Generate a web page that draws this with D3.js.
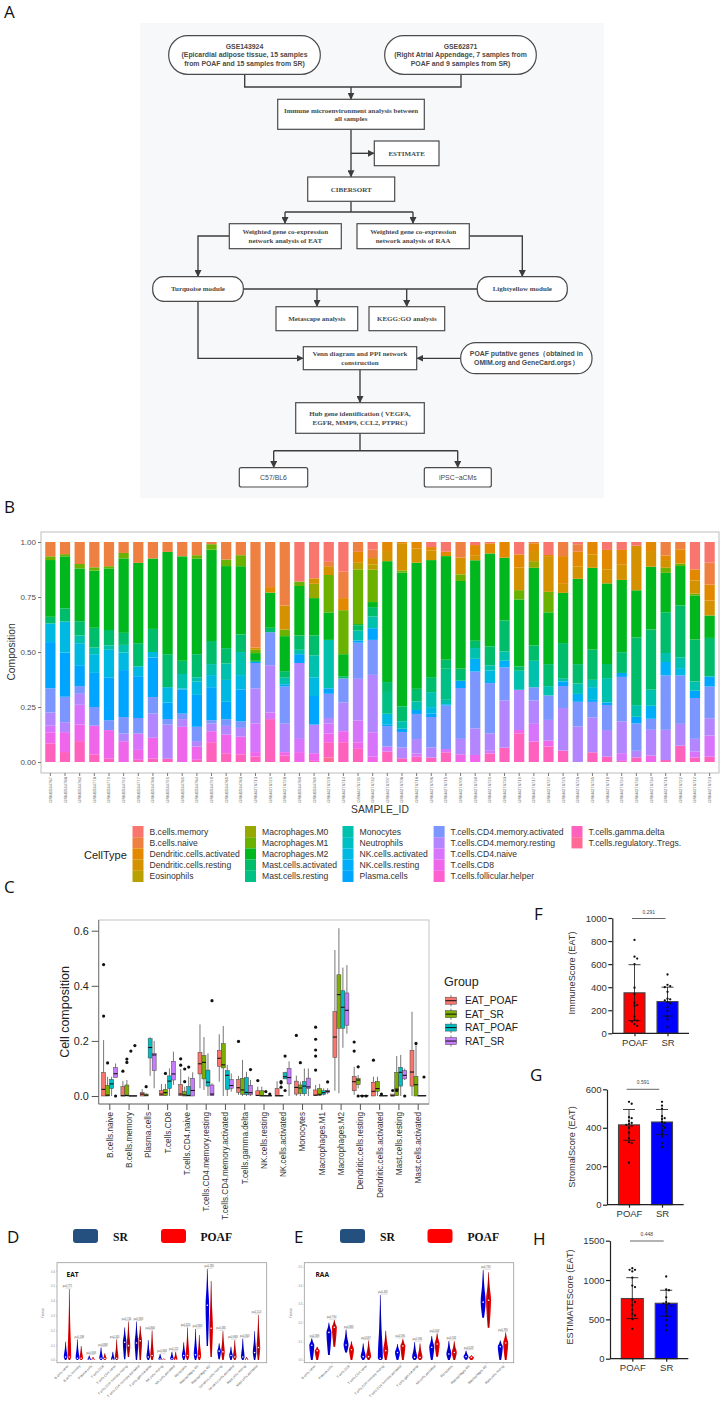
<!DOCTYPE html>
<html>
<head>
<meta charset="utf-8">
<script src="https://cdn.jsdelivr.net/npm/d3@7"></script>
<style>
body { margin: 0; background: #fff; }
text { font-family: "Liberation Sans", sans-serif; }
</style>
</head>
<body>
<script>
'use strict';

// ---------- panel B data ----------
const cellTypes = ['B.cells.memory', 'B.cells.naive', 'Dendritic.cells.activated', 'Dendritic.cells.resting', 'Eosinophils',
  'Macrophages.M0', 'Macrophages.M1', 'Macrophages.M2', 'Mast.cells.activated', 'Mast.cells.resting',
  'Monocytes', 'Neutrophils', 'NK.cells.activated', 'NK.cells.resting', 'Plasma.cells',
  'T.cells.CD4.memory.activated', 'T.cells.CD4.memory.resting', 'T.cells.CD4.naive', 'T.cells.CD8', 'T.cells.follicular.helper',
  'T.cells.gamma.delta', 'T.cells.regulatory..Tregs.'];
const cellColors = ['#F8766D', '#EE8042', '#E38900', '#D49200', '#B8A000', '#97A900', '#6BB100', '#00B81E', '#00BD6B', '#00C085',
  '#00C0AE', '#00BFC4', '#00B9E3', '#00AEFA', '#00A5FF', '#7C96FF', '#B385FF', '#D873FB', '#F066EA', '#FD61D1', '#FF62BC', '#FF6A96'];
const sampleIds = ['GSM1534787', 'GSM1534788', 'GSM1534782', 'GSM1534778', 'GSM1534779', 'GSM1534792', 'GSM1534777', 'GSM1534786',
  'GSM1534791', 'GSM1534781', 'GSM1534784', 'GSM1534790', 'GSM1534785', 'GSM1534783', 'GSM4276713', 'GSM4276721', 'GSM4276728',
  'GSM1534780', 'GSM1534789', 'GSM4276720', 'GSM4276714', 'GSM4276711', 'GSM4276732', 'GSM4276707', 'GSM4276708', 'GSM4276718',
  'GSM4276706', 'GSM4276715', 'GSM4276709', 'GSM4276730', 'GSM4276729', 'GSM4276733', 'GSM4276719', 'GSM4276717', 'GSM4276727',
  'GSM4276725', 'GSM4276726', 'GSM4276735', 'GSM4276710', 'GSM4276724', 'GSM4276731', 'GSM4276734', 'GSM4276716', 'GSM4276722',
  'GSM4276712', 'GSM4276723'];
// percent per sample, same order as cellTypes
const compositionBySample = [
  [0,6.5,0,0,0,0,1.7,25.8,3,0,0,0,8.5,0,21,11,6,3,5,0,8.5,0],
  [0,5.5,0,0,0,0,1,23.5,6,0,0,0,14,0,20,11.5,4.5,0,9,0,4.5,0],
  [0,10,0,0,0,0,2,24,6.5,0,3.5,0,10,0,9.5,3.5,5,9,7.5,0,9.5,0],
  [0,11.5,0,0,0,0,1.5,26,9,0,3,0,8.5,0,15.5,8.5,0,0,13,0,3.5,0],
  [0,11,0,0,0,0,1,28,7,0,2,0,12.5,0,19.5,4.5,0,0,13,0,1.5,0],
  [0,5,0,0,0,0,2.5,34,5.5,0,3.5,0,8,0,21.5,7.5,3.5,0,9.5,0,0,0],
  [0,9.5,0,0,0,0,0,36.5,10.5,0,0,0,4.5,0,19,7,0,7.5,4.5,0,1,0],
  [0,7.5,0,0,0,0,0,32,10.5,0,0,0,2.5,0,18,7.5,11,0,9.5,0,1.5,0],
  [0,4.5,0,0,0,0,0,46.5,15,0,0,0,7,0,7.5,2.5,15.5,0,0,0,1.5,0],
  [0,6.5,0,0,0,0,0,47.5,6,0,6.5,0,.5,0,11,2.5,3.5,0,16,0,0,0],
  [0,6,0,0,0,0,1.5,43.5,10.5,0,2,0,6,0,14.5,6.5,2.5,0,6,0,1,0],
  [0,1,0,0,0,0,2.5,41.5,10.5,0,5,0,5.5,0,15,1.5,3.5,0,5,0,9,0],
  [0,8,0,0,0,0,3,37.5,7,0,7.5,0,10,0,8,3,4,0,8.5,0,4,0],
  [0,6,0,0,0,0,5,31,8,0,10.5,0,6.5,0,14.5,3,4,0,8,0,3.5,0],
  [0,48,0,1,0,0,1.5,3.5,.5,0,0,0,0,0,.5,11.5,16,13,2,0,2.5,0],
  [0,20.5,2.5,0,0,0,0,16,2,0,0,0,0,0,0,15,21.5,3,0,0,19.5,0],
  [0,29,0,11,0,0,3,16,3,0,3,0,0,0,1,17,13,0,1.5,0,3,0],
  [18,0,0,0,0,0,2,22.5,6.5,0,2,0,0,0,4,0,34.5,6,4.5,0,0,0],
  [16.5,0,0,2.5,0,6.5,0,17,9,0,10,0,8.5,0,13,0,13,0,3.5,0,.5,0],
  [9,2,0,4,0,0,17,12.5,0,0,22,0,0,0,2.5,11,2.5,4.5,4,0,7,2],
  [13.5,12,5.5,0,0,0,20,10,1,0,0,0,0,0,0,11,13,0,5,0,9,0],
  [0,4.5,5,0,3,0,25,.5,2.5,0,4.5,0,0,0,1,16.5,19,10,3,0,6,0],
  [3.5,3.8,0,3,2.3,0,14.7,2.3,4.2,0,5.4,0,0,0,5.3,15.9,26.1,11.1,2.4,0,0,0],
  [0,0,4.1,4.6,0,0,0,54.9,4.5,9.9,0,0,5,0,.6,9.3,0,2.3,0,0,4.7,0],
  [0,0,.8,12.1,0,0,1,60.7,6.8,0,3.4,0,0,0,1.5,7,4.9,0,0,0,1.7,0],
  [0,0,2.9,6.5,0,0,0,57.2,5.8,0,3.8,0,0,0,1.8,11.4,6.5,1.5,0,0,2.4,0],
  [2.3,0,1.5,4.4,0,0,0,53.1,6.8,0,6.8,0,3,0,1.5,13.8,4.6,0,0,0,2,0],
  [4.4,0,2,0,0,0,0,47,4.1,14.1,2,0,0,0,.6,19.7,0,1.5,0,0,4.4,0],
  [0,7.1,0,7.6,0,0,3,39.8,5.5,0,0,0,0,0,3.3,23.1,7,0,3.5,0,0,0],
  [1.4,0,4.6,2.3,0,0,0,36.6,3.3,0,4.9,0,0,5.8,0,25.8,12.1,0,3.2,0,0,0],
  [.6,0,4.6,0,0,0,0,42.2,8.6,0,2.4,0,5.2,0,.5,22.8,7.9,1.2,0,0,3.9,0],
  [0,0,7.1,0,0,0,0,28.5,14,0,4.2,0,0,3,0,15,21.4,0,0,0,6.5,0],
  [5.6,0,6,10.2,0,0,4.2,30.3,2,0,8.6,0,0,0,0,0,18.2,0,1.5,0,13,0],
  [0,.6,3.5,4.6,0,3,0,35.2,7,0,12,0,0,0,0,6,10.6,8,0,0,9.3,0],
  [5.9,0,.5,16.2,0,0,9.3,23.5,10,0,4.2,0,0,0,0,11.1,9.4,0,2.7,0,7,0],
  [0,6.4,12.6,4.1,0,0,0,22.8,16.2,0,1.2,0,0,0,2.1,10,19.3,0,0,0,5.2,0],
  [1,3.4,6.8,5.5,0,0,0,38.7,8.8,0,4.7,0,0,3.6,0,11.2,16.1,0,0,0,0,0],
  [0,0,5.6,6.1,0,0,0,37.2,13.7,0,3.3,0,5.8,0,.9,7.1,15.8,0,0,0,4.4,0],
  [3.6,0,8.8,6.4,0,0,0,36.6,6.4,0,11.1,0,0,0,1.1,11.4,12.1,0,0,0,2.4,0],
  [3.6,0,6.5,7.1,0,0,0,32.8,9.4,0,0,0,0,0,1.8,20.2,14.4,3.5,0,0,.5,0],
  [1.7,0,0,20.2,0,0,0,21.4,30.7,0,5.3,0,0,0,3,12.4,3,0,0,0,2.1,0],
  [0,0,4.1,7.1,0,0,0,28.5,27.3,0,7.3,0,0,5.9,0,5,11.7,0,2.9,0,0,0],
  [0,6.1,2.1,3.5,0,0,2.3,17.9,18.5,0,4.1,0,0,6.1,0,24.7,13.7,0,0,0,.9,0],
  [0,3.3,6.5,0,0,0,1.1,17.9,23.5,0,4.9,0,3.3,0,0,22,9.9,0,0,0,7.4,0],
  [12.4,0,5,6,0,0,.8,20,19,0,4.2,0,0,0,3.3,18.5,5.8,2.6,0,0,2.1,0],
  [9.4,9.9,7.3,6.8,0,0,0,10.2,17.5,0,0,0,0,0,4.6,14.4,7.9,9.6,0,0,2.4,0]
];

// ---------- panel C data: [whisker low, q1, median, q3, whisker high, outliers] ----------
const boxCategories = ['B.cells.naive', 'B.cells.memory', 'Plasma.cells', 'T.cells.CD8', 'T.cells.CD4.naive',
  'T.cells.CD4.memory.resting', 'T.cells.CD4.memory.activated', 'T.cells.gamma.delta', 'NK.cells.resting', 'NK.cells.activated',
  'Monocytes', 'Macrophages.M1', 'Macrophages.M2', 'Dendritic.cells.resting', 'Dendritic.cells.activated',
  'Mast.cells.resting', 'Mast.cells.activated'];
const boxGroups = ['EAT_POAF', 'EAT_SR', 'RAT_POAF', 'RAT_SR'];
const boxColors = ['#F8766D', '#7CAE00', '#00BFC4', '#C77CFF'];
const eatPoafBoxes = [
  [0,0,.024,.085,.203,[.477,.29]], [0,0,.001,.034,.054,[.09]], [0,0,.007,.012,.025,[]], [0,.001,.007,.02,.044,[]],
  [0,.001,.007,.042,.098,[.135,.112]], [.028,.08,.117,.158,.26,[]], [.052,.108,.137,.165,.224,[]], [.004,.013,.03,.06,.073,[.198]],
  [0,.001,.002,.019,.034,[.056]], [0,0,.001,.027,.054,[]], [0,.007,.031,.054,.074,[.22]], [0,.002,.003,.022,.04,[.25,.206,.167,.145,.094]],
  [.019,.14,.214,.306,.53,[]], [.004,.019,.052,.071,.106,[.196,.163]], [0,0,.017,.05,.07,[.13]], [0,0,.001,.007,.007,[.02]], [0,.036,.087,.166,.306,[]]
];
const eatSrBoxes = [
  [0,0,.003,.039,.07,[.12]], [0,0,.002,.04,.058,[.134,.122]], [0,0,.003,.007,.01,[.034]], [0,.001,.012,.024,.044,[.082]],
  [0,0,.004,.017,.034,[.098,.052]], [.022,.062,.122,.147,.214,[]], [0,.102,.113,.19,.254,[]], [0,.006,.022,.064,.131,[]],
  [0,0,.001,.019,.034,[]], [0,0,.001,.001,.001,[.052,.048,.032]], [0,.01,.029,.04,.052,[.121]], [0,.002,.006,.027,.044,[]],
  [.01,.246,.368,.44,.609,[]], [.028,.041,.058,.064,.076,[.106,0]], [0,.017,.027,.053,.07,[]], [.001,.001,.025,.086,.145,[.02]], [0,0,.041,.071,.189,[.191]]
];
const ratPoafBoxes = [
  [0,.027,.044,.06,.07,[]], [0,0,0,.001,.001,[.163]], [.073,.138,.176,.208,.213,[]], [0,.027,.054,.073,.1,[]],
  [0,0,.002,.035,.07,[.105]], [0,.036,.05,.094,.155,[]], [0,.024,.075,.092,.113,[]], [0,.005,.013,.067,.088,[]],
  [0,0,.001,.001,.002,[.016]], [.062,.062,.07,.085,.088,[.145,.02]], [0,.008,.036,.053,.1,[]], [.002,.006,.012,.019,.028,[]],
  [.175,.246,.322,.382,.466,[]], [0,0,.001,.001,.001,[0]], [0,0,.001,.001,.001,[.007]], [0,.036,.086,.104,.149,[]], [0,0,.001,.001,.001,[]]
];
const ratSrBoxes = [
  [.07,.067,.081,.103,.118,[0]], [0,0,0,.001,.001,[.183]], [.028,.092,.149,.155,.2,[]], [.04,.058,.08,.126,.161,[]],
  [0,0,.02,.064,.086,[]], [0,.001,.007,.04,.046,[.346]], [.016,.028,.038,.06,.082,[]], [0,.004,.012,.039,.058,[.096]],
  [0,0,.001,.001,.002,[.007]], [0,.044,.067,.1,.126,[]], [0,.027,.033,.065,.1,[]], [.007,.012,.017,.02,.028,[.051]],
  [.226,.257,.311,.374,.475,[]], [0,0,.001,.001,.001,[0]], [0,0,.001,.001,.001,[]], [.058,.062,.075,.093,.1,[0]], [0,0,.001,.001,.001,[.069]]
];

// ---------- panels D, E data: [low, median, high] ----------
const eatLabels = ['B cells naive', 'B cells memory', 'Plasma cells', 'T cells CD8', 'T cells CD4 naive', 'T cells CD4 memory resting',
  'T cells CD4 memory activated', 'T cells gamma delta', 'NK cells resting', 'NK cells activated', 'Monocytes', 'Macrophages M1',
  'Macrophages M2', 'Dendritic cells resting', 'Dendritic cells activated', 'Mast cells resting', 'Mast cells activated'];
const eatSr = [[0,.02,.124],[0,.012,.14],[0,.005,.03],[0,.012,.085],[0,.005,.055],[.005,.12,.22],[0,.115,.26],[0,.02,.135],[0,.006,.04],
  [0,.008,.055],[0,.03,.12],[0,.035,.21],[.095,.37,.615],[.005,.06,.113],[0,.03,.09],[0,.02,.145],[0,.05,.195]];
const eatPoaf = [[0,.02,.48],[0,.012,.095],[0,.004,.02],[0,.01,.045],[0,.012,.14],[.02,.097,.26],[0,.13,.23],[0,.03,.2],[0,.002,.01],
  [0,.005,.055],[0,.03,.22],[0,.027,.17],[.02,.215,.535],[0,.055,.195],[0,.02,.135],[0,.004,.02],[0,.085,.305]];
const eatP = ['p=0.771', 'p=0.198', 'p=0.698', 'p=0.888', 'p=0.165', 'p=0.744', 'p=0.983', 'p=0.866', 'p=0.638', 'p=0.221', 'p=0.824',
  'p=0.983', 'p=0.285', 'p=0.485', 'p=0.868', 'p=0.363', 'p=0.114'];

const raaLabels = ['B cells naive', 'Plasma cells', 'T cells CD8', 'T cells CD4 naive', 'T cells CD4 memory resting',
  'T cells CD4 memory activated', 'T cells gamma delta', 'NK cells activated', 'Monocytes', 'Macrophages M1', 'Macrophages M2', 'Mast cells resting'];
const raaSr = [[0,.079,.116],[.027,.148,.2],[.04,.08,.164],[0,.018,.089],[0,.009,.348],[0,.04,.086],[0,.014,.096],[0,.068,.129],[0,.032,.102],
  [.002,.018,.05],[.227,.31,.482],[0,.071,.105]];
const raaPoaf = [[0,.05,.071],[.071,.175,.214],[0,.055,.1],[0,.018,.105],[0,.05,.157],[0,.075,.113],[0,.014,.089],[.018,.086,.143],[0,.04,.1],
  [0,.014,.025],[.173,.32,.47],[0,.091,.148]];
const raaP = ['p=0.599', 'p=0.794', 'p=0.893', 'p=0.597', 'p=0.492', 'p=0.596', 'p=0.596', 'p=0.568', 'p=0.592', 'p=0.028', 'p=0.795', 'p=0.799'];

// ---------- panels F, G, H data ----------
const immunePoaf = [810,665,648,600,395,340,265,245,240,145,115,110,100,80,65];
const immuneSr = [510,420,410,400,360,300,295,285,270,260,225,195,145,120,55];
const stromalPoaf = [535,525,455,450,435,425,420,415,410,400,375,345,325,320,218];
const stromalSr = [535,515,500,460,450,445,430,425,410,400,385,370,355,320,300];
const estimatePoaf = [1150,1130,1130,1110,1030,930,910,750,720,680,620,570,550,500,380];
const estimateSr = [1045,880,870,780,720,700,700,680,670,640,600,540,490,420,360];
// mean, error low, error high for POAF then SR
const immuneBars = [[351,110,595],[275,150,400]];
const stromalBars = [[415,335,495],[430,364,495]];
const estimateBars = [[765,510,1030],[705,540,870]];

// ---------- flowchart ----------
const flowNodes = [
  { x: 168.7, y: 35.7, w: 151.6, h: 38.6, r: 19, sans: true, lines: ['GSE143924', '(Epicardial adipose tissue, 15 samples', 'from POAF and 15 samples from SR)'] },
  { x: 384.7, y: 35.7, w: 151.6, h: 38.6, r: 19, sans: true, lines: ['GSE62871', '(Right Atrial Appendage, 7 samples from', 'POAF and 9 samples from SR)'] },
  { x: 277.7, y: 99.3, w: 146.6, h: 30, lines: ['Immune microenvironment analysis between', 'all samples'] },
  { x: 374.3, y: 141, w: 64.7, h: 24.7, lines: ['ESTIMATE'] },
  { x: 307.7, y: 177, w: 87, h: 24.3, lines: ['CIBERSORT'] },
  { x: 229.3, y: 223.7, w: 112, h: 25, lines: ['Weighted gene co-expression', 'network analysis of EAT'] },
  { x: 357, y: 223.7, w: 112.3, h: 25, lines: ['Weighted gene co-expression', 'network analysis of RAA'] },
  { x: 152.7, y: 276.7, w: 90.6, h: 24.6, r: 11, lines: ['Turquoise module'] },
  { x: 477.3, y: 276.7, w: 90, h: 24.6, r: 11, lines: ['Lightyellow module'] },
  { x: 276, y: 306.7, w: 81.7, h: 24, lines: ['Metascape analysis'] },
  { x: 369, y: 306.7, w: 75.7, h: 24, lines: ['KEGG:GO analysis'] },
  { x: 303.3, y: 346.7, w: 113.4, h: 23, lines: ['Venn diagram and PPI network', 'construction'] },
  { x: 460.7, y: 342.7, w: 131.3, h: 31, r: 15, sans: true, lines: ['POAF putative genes\uFF08obtained in', 'OMIM.org and GeneCard.orgs\uFF09'] },
  { x: 295.7, y: 402.7, w: 128.6, h: 30.6, lines: ['Hub gene identification ( VEGFA,', 'EGFR, MMP9, CCL2, PTPRC)'] },
  { x: 239.3, y: 467.7, w: 68.4, h: 19.3, r: 2, sans: true, plain: true, lines: ['C57/BL6'] },
  { x: 424.3, y: 467.7, w: 67, h: 19.3, r: 2, sans: true, plain: true, lines: ['iPSC\u2212aCMs'] }
];
// polylines without and with arrowhead
const flowLines = [
  [[244.7,74.3],[244.7,87],[461,87],[461,74.3]],
  [[351,201.3],[351,212]], [[285,212],[413,212]],
  [[243.3,289],[477.3,289]],
  [[360,433.3],[360,450.7]], [[273.7,450.7],[457.7,450.7]]
];
const flowArrows = [
  [[351,87],[351,99.3]], [[351,129.3],[351,177]], [[351,153.3],[374.3,153.3]],
  [[285,212],[285,223.7]], [[413,212],[413,223.7]],
  [[229.3,236],[198,236],[198,276.7]], [[469.3,236],[522.3,236],[522.3,276.7]],
  [[317,289],[317,306.7]], [[406.7,289],[406.7,306.7]],
  [[198,301.3],[198,358.3],[303.3,358.3]], [[460.7,358.3],[416.7,358.3]],
  [[360,369.7],[360,402.7]], [[273.7,450.7],[273.7,467.7]], [[457.7,450.7],[457.7,467.7]]
];

let w = 727, h = 1403;

let svg = d3.select('body')
  .append('svg')
  .attr('width', w)
  .attr('height', h)
  .style('display', 'block');

svg.append('defs').append('marker')
  .attr('id', 'arrow')
  .attr('viewBox', '0 0 10 10')
  .attr('refX', 9.5).attr('refY', 5)
  .attr('markerUnits', 'userSpaceOnUse')
  .attr('markerWidth', 7).attr('markerHeight', 7)
  .attr('orient', 'auto')
  .append('path').attr('d', 'M0,0L10,5L0,10Z').attr('fill', '#3c3c3c');

// panel letters
[['A', 4, 18], ['B', 4, 513], ['C', 4, 893], ['D', 7, 1243], ['E', 294, 1243], ['F', 534, 920], ['G', 530, 1081], ['H', 533, 1245]]
  .forEach(d => {
    svg.append('text').text(d[0]).attr('x', d[1]).attr('y', d[2])
      .style('font-family', '"Open Sans", sans-serif').style('font-size', '17px').attr('fill', '#111');
  });

// ---------- A ----------
let flow = svg.append('g');
flow.append('rect').attr('x', 140).attr('y', 23).attr('width', 464).attr('height', 475).attr('fill', '#F7F8FA');

let flowPath = d3.line();
flow.selectAll('path.link').data(flowLines).enter().append('path')
  .attr('class', 'link').attr('d', flowPath).attr('fill', 'none').attr('stroke', '#3c3c3c').attr('stroke-width', 1.35);
flow.selectAll('path.arrow').data(flowArrows).enter().append('path')
  .attr('class', 'arrow').attr('d', flowPath).attr('fill', 'none').attr('stroke', '#3c3c3c').attr('stroke-width', 1.35)
  .attr('marker-end', 'url(#arrow)');

flowNodes.forEach(n => {
  flow.append('rect').attr('x', n.x).attr('y', n.y).attr('width', n.w).attr('height', n.h)
    .attr('rx', n.r || 0).attr('fill', '#fff').attr('stroke', '#4a4a4a').attr('stroke-width', 1.2);
  let lh = n.lines.length === 3 ? 8.7 : 8.4;
  n.lines.forEach((l, i) => {
    flow.append('text').text(l)
      .attr('x', n.x + n.w / 2)
      .attr('y', n.y + n.h / 2 + (i - (n.lines.length - 1) / 2) * lh)
      .attr('dy', '0.35em')
      .attr('text-anchor', 'middle')
      .attr('fill', '#4a4a4a')
      .style('font-family', n.sans ? '"Liberation Sans"' : '"Liberation Serif"')
      .style('font-weight', n.plain ? 'normal' : 'bold')
      .style('font-size', n.sans ? '6.9px' : '7px');
  });
});

// ---------- B ----------
let bx = d3.scaleBand().domain(sampleIds).range([41, 719]).paddingInner(0.3).paddingOuter(0.29);
let by = d3.scaleLinear().domain([0, 1]).range([762, 542]);

svg.append('rect').attr('x', 41).attr('y', 532).attr('width', 678).attr('height', 241)
  .attr('fill', '#fff').attr('stroke', '#bdbdbd').attr('stroke-width', 1);

// position fill, first level on top
let sampleRows = compositionBySample.map((row, i) => {
  let total = d3.sum(row);
  let o = { id: sampleIds[i] };
  cellTypes.forEach((c, j) => { o[c] = row[j] / total; });
  return o;
});
let stack = d3.stack().keys(cellTypes.slice().reverse())(sampleRows);
svg.append('g').selectAll('g').data(stack).enter().append('g')
  .attr('fill', d => cellColors[cellTypes.indexOf(d.key)])
  .selectAll('rect').data(d => d).enter().append('rect')
  .attr('x', d => bx(d.data.id))
  .attr('width', bx.bandwidth())
  .attr('y', d => by(d[1]))
  .attr('height', d => by(d[0]) - by(d[1]));

let bLeft = svg.append('g').attr('transform', 'translate(41,0)')
  .call(d3.axisLeft(by).tickValues([0, .25, .5, .75, 1]).tickFormat(d3.format('.2f')).tickSize(3).tickPadding(2));
bLeft.select('.domain').remove();
bLeft.selectAll('text').style('font-size', '8px').style('font-family', '"Liberation Sans"').attr('fill', '#4d4d4d');
bLeft.selectAll('line').attr('stroke', '#777');

let bBottom = svg.append('g').attr('transform', 'translate(0,773)')
  .call(d3.axisBottom(bx).tickSize(3));
bBottom.select('.domain').remove();
bBottom.selectAll('line').attr('stroke', '#777');
bBottom.selectAll('text')
  .attr('transform', 'rotate(-90)')
  .attr('text-anchor', 'end')
  .attr('x', -4).attr('y', 0).attr('dy', '0.35em')
  .style('font-size', '4.2px').style('font-family', '"Liberation Sans"').attr('fill', '#666');

svg.append('text').text('Composition').attr('transform', 'translate(11,652) rotate(-90)')
  .attr('text-anchor', 'middle').attr('dy', '0.35em').style('font-size', '10.3px').attr('fill', '#333');
svg.append('text').text('SAMPLE_ID').attr('x', 380).attr('y', 809).attr('dy', '0.35em')
  .attr('text-anchor', 'middle').style('font-size', '10.3px').attr('fill', '#333');

// legend of B
svg.append('text').text('CellType').attr('x', 84).attr('y', 855).attr('dy', '0.35em').style('font-size', '11px').attr('fill', '#222');
let legendX = [132.5, 245, 342.5, 433.6, 571.5];
cellTypes.forEach((c, i) => {
  let col = Math.floor(i / 5), row = i % 5;
  svg.append('rect').attr('x', legendX[col]).attr('y', 826 + row * 11.2).attr('width', 11).attr('height', 11.2).attr('fill', cellColors[i]);
  svg.append('text').text(c).attr('x', legendX[col] + 17).attr('y', 831.6 + row * 11.2).attr('dy', '0.35em')
    .style('font-size', '8.6px').attr('fill', '#333');
});

// ---------- C ----------
let cx = d3.scalePoint().domain(boxCategories).range([109.3, 417.7]);
let cy = d3.scaleLinear().domain([0, .6]).range([1096, 930.7]);
let cDodge = d3.scalePoint().domain(boxGroups).range([-5.7, 6.3]);

svg.append('rect').attr('x', 98.7).attr('y', 920).attr('width', 330.3).attr('height', 184)
  .attr('fill', '#fff').attr('stroke', '#c4c4c4').attr('stroke-width', 1);
svg.append('path').attr('d', 'M98.7,920V1104H429').attr('fill', 'none').attr('stroke', '#777').attr('stroke-width', 1);

[eatPoafBoxes, eatSrBoxes, ratPoafBoxes, ratSrBoxes].forEach((boxes, g) => {
  let group = svg.append('g');
  boxes.forEach((b, i) => {
    let x = cx(boxCategories[i]) + cDodge(boxGroups[g]);
    group.append('line').attr('x1', x).attr('x2', x).attr('y1', cy(b[0])).attr('y2', cy(b[4]))
      .attr('stroke', '#777').attr('stroke-width', 1);
    group.append('rect').attr('x', x - 2).attr('width', 4)
      .attr('y', cy(b[3])).attr('height', Math.max(cy(b[1]) - cy(b[3]), 0.3))
      .attr('fill', boxColors[g]).attr('stroke', '#444').attr('stroke-width', 0.5);
    group.append('line').attr('x1', x - 2).attr('x2', x + 2).attr('y1', cy(b[2])).attr('y2', cy(b[2]))
      .attr('stroke', '#111').attr('stroke-width', 1.1);
    group.selectAll(null).data(b[5]).enter().append('circle')
      .attr('cx', x).attr('cy', d => cy(d)).attr('r', 1.6).attr('fill', '#111');
  });
});

let cLeft = svg.append('g').attr('transform', 'translate(98.7,0)')
  .call(d3.axisLeft(cy).tickValues([0, .2, .4, .6]).tickFormat(d3.format('.1f')).tickSize(7).tickPadding(3));
cLeft.select('.domain').remove();
cLeft.selectAll('text').style('font-size', '10.8px').style('font-family', '"Liberation Sans"').attr('fill', '#222');
cLeft.selectAll('line').attr('stroke', '#555');
let cBottom = svg.append('g').attr('transform', 'translate(0,1104)')
  .call(d3.axisBottom(cx).tickSize(6));
cBottom.select('.domain').remove();
cBottom.selectAll('line').attr('stroke', '#555');
cBottom.selectAll('text')
  .attr('transform', 'rotate(-90)')
  .attr('text-anchor', 'end')
  .attr('x', -8).attr('y', 0).attr('dy', '0.35em')
  .style('font-size', '8.2px').style('font-family', '"Liberation Sans"').attr('fill', '#333');

svg.append('text').text('Cell composition').attr('transform', 'translate(65,1012) rotate(-90)')
  .attr('text-anchor', 'middle').attr('dy', '0.35em').style('font-size', '12.5px').attr('fill', '#222');
svg.append('text').text('Group').attr('x', 444).attr('y', 982).attr('dy', '0.35em').style('font-size', '12.5px').attr('fill', '#222');
boxGroups.forEach((g, i) => {
  let yy = 1000.7 + i * 13.45;
  svg.append('line').attr('x1', 451).attr('x2', 451).attr('y1', yy - 5.5).attr('y2', yy + 5.5).attr('stroke', '#777');
  svg.append('rect').attr('x', 445.5).attr('y', yy - 3.5).attr('width', 11).attr('height', 7)
    .attr('fill', boxColors[i]).attr('stroke', '#444').attr('stroke-width', 0.5);
  svg.append('line').attr('x1', 445.5).attr('x2', 456.5).attr('y1', yy).attr('y2', yy).attr('stroke', '#111').attr('stroke-width', 1);
  svg.append('text').text(g).attr('x', 465).attr('y', yy).attr('dy', '0.35em').style('font-size', '10.2px').attr('fill', '#222');
});

// ---------- D, E ----------
function violinPanel(o) {
  let x = d3.scalePoint().domain(o.labels).range(o.xRange);
  let y = d3.scaleLinear().domain([0, o.yMax]).range([1360, o.yTop]);

  svg.append('rect').attr('x', o.box[0]).attr('y', 1262.7).attr('width', o.box[1] - o.box[0]).attr('height', 100)
    .attr('fill', '#fff').attr('stroke', '#9a9a9a').attr('stroke-width', 0.8);

  let area = d3.area()
    .x0(d => d.c - d.w).x1(d => d.c + d.w).y(d => d.y)
    .curve(d3.curveMonotoneY);

  [[o.sr, '#0000E6', '#00006e', -o.gap], [o.poaf, '#E60000', '#6e0000', o.gap]].forEach(s => {
    s[0].forEach((v, i) => {
      let c = x(o.labels[i]) + s[3];
      let mid = (v[1] + v[2]) / 2;
      let prof = [[v[2], 0.03], [mid, 0.45], [v[1], 1], [(v[0] + v[1]) / 2, 0.75], [v[0], 0.35]];
      svg.append('path')
        .attr('d', area(prof.map(p => ({ c: c, w: p[1] * o.halfWidth, y: y(p[0]) }))))
        .attr('fill', s[1]);
      svg.append('line').attr('x1', c).attr('x2', c).attr('y1', y(v[0])).attr('y2', y(v[2]))
        .attr('stroke', s[2]).attr('stroke-width', 0.5);
      svg.append('circle').attr('cx', c).attr('cy', y(v[1])).attr('r', 0.8).attr('fill', '#fff');
    });
  });

  o.labels.forEach((l, i) => {
    let top = y(Math.max(o.sr[i][2], o.poaf[i][2])) - 1;
    svg.append('path').attr('d', 'M' + (x(l) - o.gap) + ',' + top + 'H' + (x(l) + o.gap + 2))
      .attr('stroke', '#777').attr('stroke-width', 0.3);
    svg.append('text').text(o.p[i]).attr('x', x(l)).attr('y', top - 0.8).attr('text-anchor', 'middle')
      .style('font-size', '2.6px').attr('fill', '#555');
  });

  let left = svg.append('g').attr('transform', 'translate(' + o.box[0] + ',0)')
    .call(d3.axisLeft(y).ticks(o.yMax * 10).tickFormat(d3.format('.1f')).tickSize(1).tickPadding(1));
  left.select('.domain').remove();
  left.selectAll('line').attr('stroke', '#999').attr('stroke-width', 0.4);
  left.selectAll('text').style('font-size', '2.8px').style('font-family', '"Liberation Sans"').attr('fill', '#888');

  let bottom = svg.append('g').attr('transform', 'translate(0,1362.7)')
    .call(d3.axisBottom(x).tickSize(1.2));
  bottom.select('.domain').remove();
  bottom.selectAll('line').attr('stroke', '#999').attr('stroke-width', 0.4);
  bottom.selectAll('text')
    .attr('transform', 'rotate(-45)')
    .attr('text-anchor', 'end')
    .attr('x', -2).attr('y', 2).attr('dy', '0.35em')
    .style('font-size', '3.3px').style('font-family', '"Liberation Sans"').attr('fill', '#555');

  svg.append('text').text('Fraction').attr('transform', 'translate(' + o.yTitleX + ',1313) rotate(-90)')
    .attr('text-anchor', 'middle').style('font-size', '2.8px').attr('fill', '#777');
  svg.append('text').text(o.title).attr('x', o.titleX).attr('y', 1276.5)
    .style('font-family', '"Open Sans"').style('font-weight', 'bold').style('font-size', '6.6px').attr('fill', '#111');

  // legend
  [['SR', '#24507F', o.legend[0], o.legend[1]], ['POAF', '#FF0000', o.legend[2], o.legend[3]]].forEach(k => {
    svg.append('rect').attr('x', k[2]).attr('y', 1229).attr('width', 25).attr('height', 14).attr('rx', 3).attr('fill', k[1]);
    svg.append('text').text(k[0]).attr('x', k[3]).attr('y', 1241)
      .style('font-family', '"Liberation Serif"').style('font-weight', 'bold').style('font-size', '11.6px').attr('fill', '#111');
  });
}

violinPanel({
  labels: eatLabels, sr: eatSr, poaf: eatPoaf, p: eatP, title: 'EAT', titleX: 66.5,
  box: [57, 266.7], xRange: [67.5, 256.5], yMax: .6, yTop: 1271.3, gap: 1.9, halfWidth: 1.8,
  yTitleX: 44, legend: [73, 113, 161, 200.5]
});
violinPanel({
  labels: raaLabels, sr: raaSr, poaf: raaPoaf, p: raaP, title: 'RAA', titleX: 315.5,
  box: [304.3, 513.7], xRange: [314.5, 503], yMax: .5, yTop: 1266.7, gap: 2.7, halfWidth: 2.5,
  yTitleX: 292, legend: [340, 380, 427.5, 467.5]
});

// ---------- F, G, H ----------
function scorePanel(o) {
  let y = d3.scaleLinear().domain([0, o.max]).range([o.y0, o.yTop]);
  let x = d3.scalePoint().domain(['POAF', 'SR']).range(o.centers);
  let fills = ['#FF0000', '#0000FF'];
  let g = svg.append('g');

  o.bars.forEach((b, i) => {
    let c = x(x.domain()[i]);
    g.append('rect').attr('x', c - o.barW / 2).attr('width', o.barW)
      .attr('y', y(b[0])).attr('height', y(0) - y(b[0]))
      .attr('fill', fills[i]).attr('stroke', '#444').attr('stroke-width', 1.1);
    g.append('line').attr('x1', c).attr('x2', c).attr('y1', y(b[1])).attr('y2', y(b[2])).attr('stroke', '#111').attr('stroke-width', 0.8);
    [b[1], b[2]].forEach(v => {
      g.append('line').attr('x1', c - 6).attr('x2', c + 6).attr('y1', y(v)).attr('y2', y(v)).attr('stroke', '#111').attr('stroke-width', 0.8);
    });
    // spread points that would overlap
    let placed = [];
    let pts = o.points[i].map(v => {
      let py = y(v), off = 0;
      for (let k = 0; k < 9; k++) {
        off = (k % 2 ? 1 : -1) * Math.ceil(k / 2) * 2.7;
        if (!placed.some(p => Math.hypot(p[0] - off, p[1] - py) < 2.6)) break;
      }
      placed.push([off, py]);
      return [c + off, py];
    });
    g.selectAll(null).data(pts).enter().append('circle')
      .attr('cx', d => d[0]).attr('cy', d => d[1]).attr('r', 1.15).attr('fill', '#111');
  });

  let left = svg.append('g').attr('transform', 'translate(' + o.axisX + ',0)')
    .call(d3.axisLeft(y).tickValues(o.ticks).tickFormat(d3.format('d')).tickSize(4).tickPadding(1.5).tickSizeOuter(0));
  left.select('.domain').attr('stroke', '#222').attr('stroke-width', 1.2);
  left.selectAll('line').attr('stroke', '#222').attr('stroke-width', 1.2);
  left.selectAll('text').style('font-size', '9.5px').style('font-family', '"Liberation Sans"').attr('fill', '#333');

  let bottom = svg.append('g').attr('transform', 'translate(0,' + o.y0 + ')')
    .call(d3.axisBottom(x).tickSize(3).tickPadding(3).tickSizeOuter(0));
  bottom.select('.domain').attr('d', 'M' + o.axisX + ',0H' + o.xEnd).attr('stroke', '#222').attr('stroke-width', 1.2);
  bottom.selectAll('line').attr('stroke', '#222').attr('stroke-width', 1.2);
  bottom.selectAll('text').style('font-size', '9.5px').style('font-family', '"Liberation Sans"').attr('fill', '#333');

  svg.append('text').text(o.title).attr('transform', 'translate(' + o.titleX + ',' + o.titleY + ') rotate(-90)')
    .attr('text-anchor', 'middle').attr('dy', '0.35em').style('font-size', '9.2px').attr('fill', '#333');
  svg.append('line').attr('x1', o.pLine[0]).attr('x2', o.pLine[1]).attr('y1', o.pLine[2]).attr('y2', o.pLine[2])
    .attr('stroke', '#555').attr('stroke-width', 0.9);
  svg.append('text').text(o.pText).attr('x', (o.pLine[0] + o.pLine[1]) / 2).attr('y', o.pLine[2] - 5)
    .attr('text-anchor', 'middle').style('font-size', '5px').attr('fill', '#444');
}

scorePanel({
  max: 1000, ticks: [0, 200, 400, 600, 800, 1000], y0: 1033.3, yTop: 918, centers: [634.5, 667.5], barW: 21,
  axisX: 612.3, xEnd: 689, bars: immuneBars, points: [immunePoaf, immuneSr],
  title: 'ImmuneScore (EAT)', titleX: 572, titleY: 973, pLine: [632, 665.5, 918.5], pText: '0.291'
});
scorePanel({
  max: 600, ticks: [0, 200, 400, 600], y0: 1204.7, yTop: 1089.3, centers: [629, 662], barW: 21,
  axisX: 607, xEnd: 683.7, bars: stromalBars, points: [stromalPoaf, stromalSr],
  title: 'StromalScore (EAT)', titleX: 572, titleY: 1147, pLine: [626.7, 659.3, 1089.3], pText: '0.591'
});
scorePanel({
  max: 1500, ticks: [0, 500, 1000, 1500], y0: 1358.7, yTop: 1240.7, centers: [632.3, 666.2], barW: 22,
  axisX: 610, xEnd: 688.3, bars: estimateBars, points: [estimatePoaf, estimateSr],
  title: 'ESTIMATEScore (EAT)', titleX: 570, titleY: 1297, pLine: [630, 663.7, 1241], pText: '0.448'
});
</script>
</body>
</html>
